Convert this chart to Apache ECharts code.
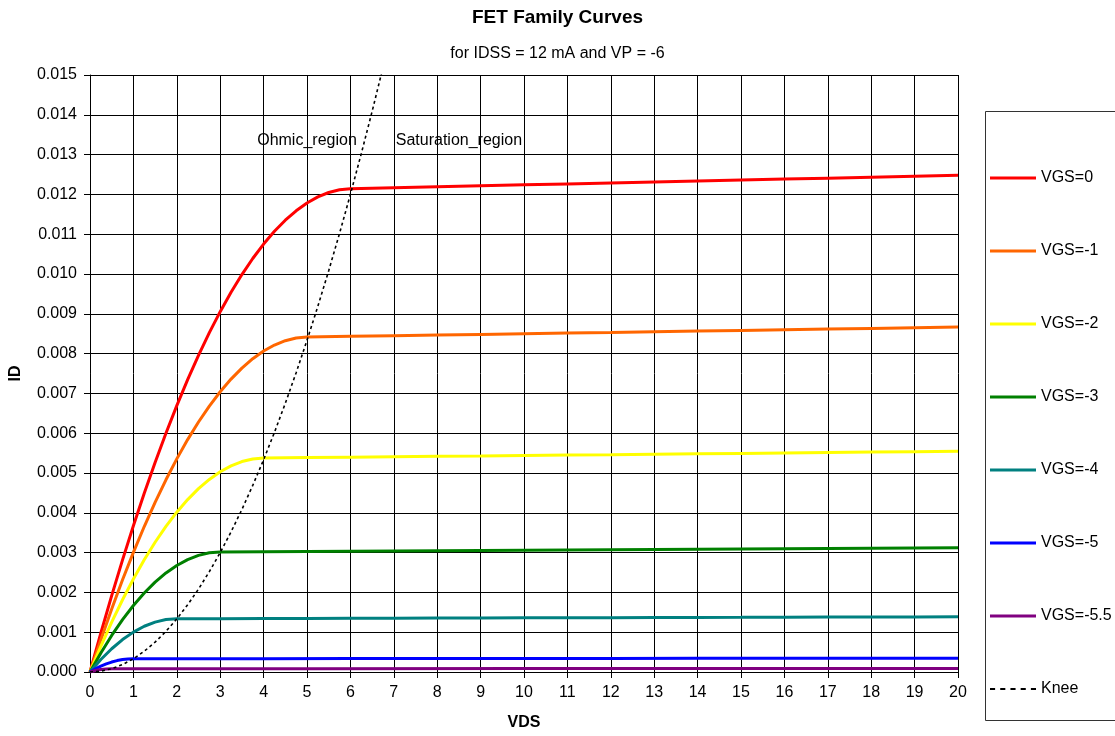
<!DOCTYPE html>
<html>
<head>
<meta charset="utf-8">
<script src="https://cdn.jsdelivr.net/npm/echarts@6/dist/echarts.min.js"></script>
<style>html,body{margin:0;padding:0;background:#fff;}#chart{width:1115px;height:736px;}</style>
</head>
<body>
<div id="chart"></div>
<script>
// Data: [VDS (V), ID (A)]
const seriesNames = ['VGS=0','VGS=-1','VGS=-2','VGS=-3','VGS=-4','VGS=-5','VGS=-5.5','Knee'];
const vgs0 = [[0,0],[0.25,0.00098],[0.5,0.001919],[0.75,0.002817],[1,0.003674],[1.25,0.00449],[1.5,0.005266],[1.75,0.006],[2,0.006693],[2.25,0.007345],[2.5,0.007956],[2.75,0.008526],[3,0.009054],[3.25,0.009541],[3.5,0.009986],[3.75,0.01039],[4,0.010752],[4.25,0.011073],[4.5,0.011351],[4.75,0.011588],[5,0.011783],[5.25,0.011937],[5.5,0.012048],[5.75,0.012117],[6,0.012144],[7,0.012168],[8,0.012192],[9,0.012216],[10,0.01224],[11,0.012264],[12,0.012288],[13,0.012312],[14,0.012336],[15,0.01236],[16,0.012384],[17,0.012408],[18,0.012432],[19,0.012456],[20,0.01248]];
const vgs1 = [[0,0],[0.25,0.000813],[0.5,0.001585],[0.75,0.002316],[1,0.003006],[1.25,0.003655],[1.5,0.004263],[1.75,0.004829],[2,0.005355],[2.25,0.005839],[2.5,0.006281],[2.75,0.006682],[3,0.007042],[3.25,0.00736],[3.5,0.007636],[3.75,0.007871],[4,0.008064],[4.25,0.008215],[4.5,0.008324],[4.75,0.008392],[5,0.008417],[6,0.008433],[7,0.00845],[8,0.008467],[9,0.008483],[10,0.0085],[11,0.008517],[12,0.008533],[13,0.00855],[14,0.008567],[15,0.008583],[16,0.0086],[17,0.008617],[18,0.008633],[19,0.00865],[20,0.008667]];
const vgs2 = [[0,0],[0.25,0.000646],[0.5,0.001251],[0.75,0.001815],[1,0.002338],[1.25,0.00282],[1.5,0.00326],[1.75,0.003659],[2,0.004016],[2.25,0.004332],[2.5,0.004606],[2.75,0.004839],[3,0.00503],[3.25,0.005179],[3.5,0.005287],[3.75,0.005352],[4,0.005376],[5,0.005387],[6,0.005397],[7,0.005408],[8,0.005419],[9,0.005429],[10,0.00544],[11,0.005451],[12,0.005461],[13,0.005472],[14,0.005483],[15,0.005493],[16,0.005504],[17,0.005515],[18,0.005525],[19,0.005536],[20,0.005547]];
const vgs3 = [[0,0],[0.25,0.000479],[0.5,0.000918],[0.75,0.001315],[1,0.00167],[1.25,0.001984],[1.5,0.002257],[1.75,0.002488],[2,0.002677],[2.25,0.002825],[2.5,0.002931],[2.75,0.002996],[3,0.003018],[4,0.003024],[5,0.00303],[6,0.003036],[7,0.003042],[8,0.003048],[9,0.003054],[10,0.00306],[11,0.003066],[12,0.003072],[13,0.003078],[14,0.003084],[15,0.00309],[16,0.003096],[17,0.003102],[18,0.003108],[19,0.003114],[20,0.00312]];
const vgs4 = [[0,0],[0.25,0.000313],[0.5,0.000584],[0.75,0.000814],[1,0.001002],[1.25,0.001149],[1.5,0.001254],[1.75,0.001317],[2,0.001339],[3,0.001341],[4,0.001344],[5,0.001347],[6,0.001349],[7,0.001352],[8,0.001355],[9,0.001357],[10,0.00136],[11,0.001363],[12,0.001365],[13,0.001368],[14,0.001371],[15,0.001373],[16,0.001376],[17,0.001379],[18,0.001381],[19,0.001384],[20,0.001387]];
const vgs5 = [[0,0],[0.125,0.000078],[0.25,0.000146],[0.375,0.000203],[0.5,0.00025],[0.625,0.000287],[0.75,0.000313],[0.875,0.000328],[1,0.000334],[2,0.000335],[4,0.000336],[6,0.000337],[8,0.000339],[10,0.00034],[12,0.000341],[14,0.000343],[16,0.000344],[18,0.000345],[20,0.000347]];
const vgs55 = [[0,0],[0.125,0.000036],[0.25,0.0000625],[0.375,0.000078],[0.5,0.0000834],[1,0.0000835],[5,0.0000842],[10,0.000085],[15,0.0000858],[20,0.0000867]];
const knee = [[0,0],[0.25,0.0000208],[0.5,0.0000833],[0.75,0.0001875],[1,0.000333],[1.25,0.000521],[1.5,0.00075],[1.75,0.001021],[2,0.001333],[2.25,0.001688],[2.5,0.002083],[2.75,0.002521],[3,0.003],[3.25,0.003521],[3.5,0.004083],[3.75,0.004688],[4,0.005333],[4.25,0.006021],[4.5,0.00675],[4.75,0.007521],[5,0.008333],[5.25,0.009188],[5.5,0.010083],[5.75,0.011021],[6,0.012],[6.25,0.013021],[6.5,0.014083],[6.75,0.015188],[7,0.016333]];
const annotations = ['Ohmic_region', 'Saturation_region'];

const colors = ['#FF0000','#FF6600','#FFFF00','#008000','#008080','#0000FF','#800080','#000000'];
const allData = [vgs0, vgs1, vgs2, vgs3, vgs4, vgs5, vgs55, knee];
const FONT = "'Liberation Sans', Arial, sans-serif";
const DASH_ICON = 'path://M0,0h5v2h-5zM10,0h5v2h-5zM20,0h5v2h-5zM30,0h5v2h-5zM40,0h5v2h-5z';

const series = allData.map((d, i) => {
  const isKnee = i === 7;
  const s = {
    name: seriesNames[i],
    type: 'line',
    data: d,
    symbol: 'none',
    smooth: false,
    clip: true,
    z: isKnee ? 3 : 2,
    itemStyle: { color: colors[i] },
    lineStyle: isKnee ? { color: '#000', width: 1.6, type: [3, 3] } : { color: colors[i], width: 3 },
    emphasis: { disabled: true }
  };
  if (isKnee) {
    s.markPoint = {
      symbol: 'circle', symbolSize: 1, silent: true,
      itemStyle: { color: 'rgba(0,0,0,0)' },
      label: { show: true, position: 'inside', color: '#000', fontSize: 16, fontFamily: FONT },
      data: [
        { coord: [5.0, 0.01335], value: annotations[0], label: { formatter: annotations[0] } },
        { coord: [8.5, 0.01335], value: annotations[1], label: { formatter: annotations[1] } }
      ]
    };
  }
  return s;
});

const chart = echarts.init(document.getElementById('chart'), null, { renderer: 'canvas' });
chart.setOption({
  animation: false,
  backgroundColor: '#fff',
  textStyle: { fontFamily: FONT },
  title: {
    text: 'FET Family Curves',
    subtext: 'for IDSS = 12 mA and VP = -6',
    left: 'center',
    top: 3,
    itemGap: 19,
    textStyle: { fontFamily: FONT, fontSize: 19, fontWeight: 'bold', color: '#000' },
    subtextStyle: { fontFamily: FONT, fontSize: 16, color: '#000' }
  },
  grid: { left: 89, right: 157, top: 75, bottom: 62, containLabel: false },
  legend: {
    orient: 'vertical',
    left: 985,
    top: 165,
    itemWidth: 46,
    itemHeight: 3,
    itemGap: 57,
    selectedMode: false,
    data: seriesNames.map((n, i) => ({ name: n, icon: i === 7 ? DASH_ICON : 'rect' })),
    textStyle: { fontFamily: FONT, fontSize: 16, lineHeight: 16, color: '#000' }
  },
  xAxis: {
    type: 'value', min: 0, max: 20, interval: 1,
    name: 'VDS', nameLocation: 'middle', nameGap: 43,
    nameTextStyle: { fontFamily: FONT, fontSize: 16, fontWeight: 'bold', color: '#000' },
    axisLine: { show: true, onZero: false, lineStyle: { color: '#000', width: 1 } },
    axisTick: { show: true, inside: false, length: 6, lineStyle: { color: '#000' } },
    axisLabel: { margin: 13, fontSize: 16, fontFamily: FONT, color: '#000' },
    splitLine: { show: true, lineStyle: { color: '#000', width: 1 } }
  },
  yAxis: {
    type: 'value', min: 0, max: 0.015, interval: 0.001,
    name: 'ID', nameLocation: 'middle', nameGap: 66, nameRotate: 90,
    nameTextStyle: { fontFamily: FONT, fontSize: 16, fontWeight: 'bold', color: '#000' },
    axisLine: { show: true, lineStyle: { color: '#000', width: 1 } },
    axisTick: { show: true, inside: false, length: 6, lineStyle: { color: '#000' } },
    axisLabel: { margin: 13, fontSize: 16, fontFamily: FONT, color: '#000', formatter: v => v.toFixed(3) },
    splitLine: { show: true, lineStyle: { color: '#000', width: 1 } }
  },
  graphic: [{
    type: 'rect',
    shape: { x: 985.5, y: 111.5, width: 140, height: 609 },
    style: { fill: 'none', stroke: '#333', lineWidth: 1 },
    silent: true,
    z: -1
  }],
  series: series
});
</script>
</body>
</html>
